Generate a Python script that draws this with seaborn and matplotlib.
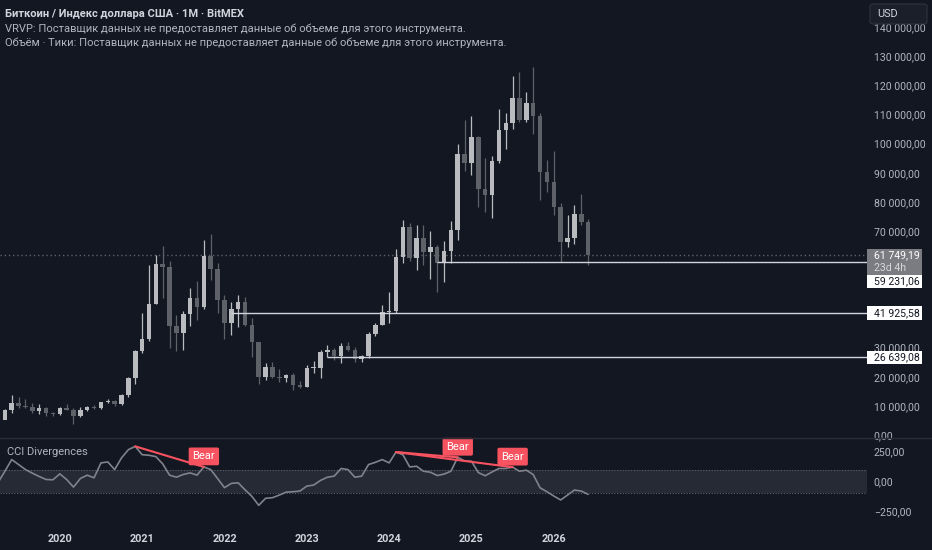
import numpy as np
import pandas as pd
import matplotlib.pyplot as plt
from matplotlib.patches import Rectangle, FancyBboxPatch
import seaborn as sns

# monthly candles, Apr 2019 .. Jun 2026
months = pd.date_range('2019-04-01', periods=87, freq='MS')

opens = [4105, 5320, 8560, 10820, 10080, 9600, 8290, 9150, 7550,
         7190, 9350, 8520, 6410, 8630, 9450, 9140, 11350, 11650, 10780, 13800, 19700,
         28990, 33110, 45140, 58800, 57750, 37330, 35040, 41460, 47100, 43800, 61300, 57000,
         46200, 38480, 43190, 45540, 37640, 31800, 19930, 23300, 20050, 19430, 20490, 17170,
         16540, 23130, 23150, 28470, 29250, 27220, 30470, 29230, 25930, 26970, 34650, 37720,
         42280, 42580, 61130, 71330, 60640, 67490, 62680, 64620, 58970, 63330, 70220, 96400,
         93430, 102400, 84370, 82550, 94200, 104600, 107200, 115800, 108300, 114000, 109500, 90400,
         87000, 78400, 66400, 67700, 76000, 73200]
highs = [5600, 9000, 13880, 13200, 12330, 10900, 10500, 9500, 7750,
         9580, 10500, 9190, 9480, 10080, 10400, 11450, 12480, 12090, 14100, 19850, 29300,
         41950, 58350, 61790, 64850, 59600, 41300, 42400, 50500, 52920, 67000, 69000, 59000,
         47990, 45800, 48200, 47450, 40000, 31900, 24670, 25200, 22800, 20990, 21450, 18400,
         23960, 25250, 29200, 31000, 29820, 31430, 31800, 30200, 27480, 35200, 38450, 44700,
         48970, 64000, 73800, 72800, 71980, 72000, 70000, 65100, 66500, 73600, 99800, 108300,
         109600, 102500, 95000, 95800, 111900, 110400, 123200, 124500, 117900, 126200, 110600, 94400,
         97600, 79500, 75500, 79000, 82600, 74000]
lows = [4100, 5330, 7450, 9100, 9400, 7710, 7300, 6520, 6430,
        6850, 8450, 3850, 6150, 8100, 8930, 8980, 10970, 9830, 10380, 13200, 17600,
        28130, 32300, 44950, 47000, 30000, 28800, 29300, 37330, 39600, 43300, 53300, 42000,
        32900, 34300, 37200, 37580, 26700, 17600, 18780, 19520, 18150, 18200, 15480, 16260,
        16500, 21350, 19550, 26940, 25800, 24800, 28860, 25200, 24900, 26550, 34100, 37600,
        38500, 41880, 59000, 59600, 56550, 58400, 53500, 49000, 52550, 58900, 66800, 90500,
        89200, 78200, 76600, 74500, 93400, 98200, 105100, 107300, 107300, 103500, 80600, 83500,
        75500, 59500, 64600, 65500, 72100, 58400]
closes = [5320, 8560, 10820, 10080, 9600, 8290, 9150, 7550, 7190,
          9350, 8520, 6410, 8630, 9450, 9140, 11350, 11650, 10780, 13800, 19700, 28990,
          33110, 45140, 58800, 57750, 37330, 35040, 41460, 47100, 43800, 61300, 57000, 46200,
          38480, 43190, 45540, 37640, 31800, 19930, 23300, 20050, 19430, 20490, 17170, 16540,
          23130, 23150, 28470, 29250, 27220, 30470, 29230, 25930, 26970, 34650, 37720, 42280,
          42580, 61130, 71330, 60640, 67490, 62680, 64620, 58970, 63330, 70220, 96400, 93430,
          102400, 84370, 82550, 94200, 104600, 107200, 115800, 108300, 114000, 109500, 90400, 87000,
          78400, 66400, 67700, 76000, 73200, 61749.19]

cci = [-10, 86, 184, 142, 100, 70, 42, 17, 14,
       64, 17, -47, 25, 53, 31, 156, 164, 100, 198, 267, 295,
       225, 220, 209, 148, 53, 36, 59, 72, 53, 122, 100, 25,
       -52, -16, -11, -70, -125, -200, -141, -136, -114, -89, -86, -80,
       -39, -30, 9, 36, 45, 109, 100, 36, 45, 142, 161, 184,
       156, 247, 225, 122, 128, 86, 78, 50, 62, 86, 203, 172,
       170, 75, 48, 80, 109, 109, 120, 86, 95, 58, -53, -86,
       -122, -155, -114, -72, -80, -108]

levels = [59231.06, 41925.58, 26639.08]
level_starts = ['2024-08', '2022-02', '2023-04']
last_price = 61749.19
time_left = '23d 4h'
bear_divs = [('2020-12', '2021-10'), ('2024-02', '2024-11'), ('2024-02', '2025-07')]

header = ['Биткоин / Индекс доллара США · 1M · BitMEX',
          'VRVP: Поставщик данных не предоставляет данные об объеме для этого инструмента.',
          'Объём · Тики: Поставщик данных не предоставляет данные об объеме для этого инструмента.']

BG = '#131722'
TXT = '#d1d4dc'
AXT = '#b2b5be'
BULL = '#b9bbbf'
BEAR = '#5f6168'
RED = '#f7525f'

sns.set_theme(style='dark', rc={'axes.facecolor': BG, 'figure.facecolor': BG,
                                'axes.edgecolor': BG, 'text.color': TXT})
plt.rcParams['font.family'] = ['Roboto', 'DejaVu Sans']

W, H = 932, 550
fig = plt.figure(figsize=(W / 100, H / 100), dpi=100)
plot_w = 866.7


def fx(px):
    return px / W


def fy(py):
    return 1 - py / H


def fmt(v):
    return f'{v:,.2f}'.replace(',', ' ').replace('.', ',')


ax = fig.add_axes([0, fy(437), fx(plot_w), 437 / H])
axc = fig.add_axes([0, fy(522), fx(plot_w), (522 - 438) / H])

x = np.arange(len(months))
idx = {m.strftime('%Y-%m'): i for i, m in enumerate(months)}
o = np.array(opens, float)
c = np.array(closes, float)
up = c >= o
cols = [BULL if u else BEAR for u in up]

# candles
ax.vlines(x, lows, highs, colors=cols, lw=0.9, zorder=2)
ax.bar(x, np.maximum(np.abs(c - o), 350), bottom=np.minimum(o, c), width=0.66,
       color=cols, linewidth=0, zorder=3)

xlim = (0.29, 126.6)
ax.set_xlim(*xlim)
ax.set_ylim(-687, 149330)
ax.axhline(last_price, color='#5d606b', ls=(0, (1, 2)), lw=1, zorder=1)
for lv, st in zip(levels, level_starts):
    ax.hlines(lv, idx[st], xlim[1], color=TXT, lw=1, zorder=4)

ax.set_xticks([])
ax.yaxis.tick_right()
ticks = np.arange(0, 140001, 10000)
ax.set_yticks(ticks)
# 40k-60k sit under the price tags on the scale
ax.set_yticklabels(['' if 40000 <= t <= 60000 else fmt(t) for t in ticks])
ax.tick_params(axis='y', length=0, pad=5, labelsize=7.6, labelcolor=AXT)
for s in ax.spines.values():
    s.set_visible(False)

# CCI panel
axc.axhspan(-100, 100, color='#262a35', lw=0, zorder=0)
for v in (100, -100):
    axc.axhline(v, color='#5d606b', ls=(0, (1, 1.5)), lw=0.8, zorder=1)
sns.lineplot(x=x, y=cci, ax=axc, color='#80838c', lw=1.2, zorder=3)
for a, b in bear_divs:
    i0, i1 = idx[a], idx[b]
    axc.plot([i0, i1], [cci[i0], cci[i1]], color=RED, lw=1.5, zorder=4)
    axc.annotate('Bear', (i1, cci[i1]), xytext=(0, 4), textcoords='offset points',
                 ha='center', va='bottom', fontsize=8, color='white', zorder=5,
                 annotation_clip=False,
                 bbox=dict(boxstyle='round,pad=0.35,rounding_size=0.15', fc=RED, ec='none'))
axc.set_xlim(*xlim)
axc.set_ylim(-340, 365)
jan = [i for i, m in enumerate(months) if m.month == 1]
axc.set_xticks(jan)
axc.set_xticklabels([months[i].year for i in jan], fontweight='bold')
axc.tick_params(axis='x', length=0, pad=9, labelsize=7.8, labelcolor=TXT)
axc.yaxis.tick_right()
axc.set_yticks([250, 0, -250])
axc.set_yticklabels(['250,00', '0,00', '−250,00'])
axc.tick_params(axis='y', length=0, pad=5, labelsize=7.6, labelcolor=AXT)
axc.set_xlabel('')
axc.set_ylabel('')
for s in axc.spines.values():
    s.set_visible(False)
fig.text(fx(7), fy(452), 'CCI Divergences', fontsize=8, color=AXT, va='center')

# separator
fig.add_artist(plt.Line2D([0, 1], [fy(437.5)] * 2, color='#2a2e39', lw=1))


# price tags on the scale
def ypix(v):
    return H - ax.transData.transform((0, v))[1]


def tag(top, h, fc, lines, tcols):
    fig.add_artist(Rectangle((fx(plot_w), fy(top + h)), fx(922) - fx(plot_w), h / H,
                             fc=fc, ec='none', transform=fig.transFigure, zorder=10))
    step = h / len(lines)
    for k, (t, tc) in enumerate(zip(lines, tcols)):
        fig.text(fx(874), fy(top + step * (k + 0.5)), t, fontsize=7.6, color=tc,
                 va='center', ha='left', zorder=11)


lp_top = ypix(last_price) - 6.5
tag(lp_top, 26, '#7a7c82', [fmt(last_price), time_left], ['white', '#d8d8d8'])
tag(lp_top + 26, 13.5, 'white', [fmt(levels[0])], ['#131722'])
for lv in levels[1:]:
    tag(ypix(lv) - 6.75, 13.5, 'white', [fmt(lv)], ['#131722'])

# currency button
fig.add_artist(FancyBboxPatch((fx(870), fy(24)), fx(927) - fx(870), 20 / H,
                              boxstyle='round,pad=0,rounding_size=0.004',
                              fc='#1b1f2a', ec='#2f3340', lw=0.8,
                              transform=fig.transFigure, zorder=10))
fig.text(fx(877), fy(14), 'USD', fontsize=7.8, color=TXT, va='center', zorder=11)

# header
fig.text(fx(5), fy(14), header[0], fontsize=8, color=TXT, va='center', fontweight='bold')
fig.text(fx(5), fy(29), header[1], fontsize=8, color=AXT, va='center')
fig.text(fx(5), fy(43), header[2], fontsize=8, color=AXT, va='center')

fig.savefig('out.png', dpi=100, facecolor=BG)
